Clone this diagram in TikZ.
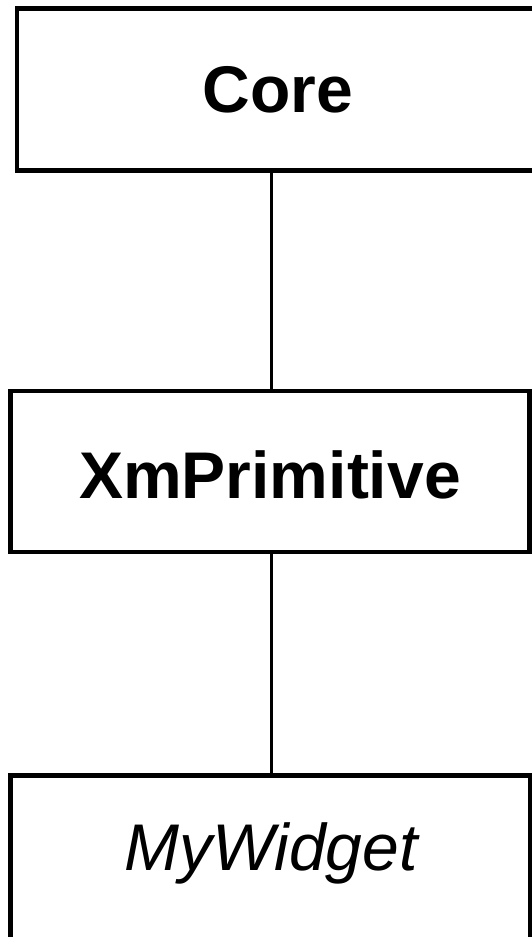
\documentclass[tikz,border=0pt]{standalone}
\usepackage{fontspec}
\setmainfont{Liberation Sans}
\begin{document}
\begin{tikzpicture}[x=1pt,y=-1pt,
  cls/.style={draw=black,line width=4.5pt,rectangle,inner sep=0pt},
  conn/.style={draw=black,line width=3pt}]
\useasboundingbox (0,0) rectangle (532,937);
\begin{scope}
\clip (0,0) rectangle (532,937);
\node[cls,minimum width=530pt,minimum height=162pt] (core) at (282,89.5) {};
\node[cls,minimum width=519pt,minimum height=161pt] (xm) at (270,471.5) {};
\node[cls,minimum width=519.5pt,minimum height=163.5pt] (my) at (270.25,857.25) {};
\end{scope}
\node[font=\fontsize{66}{70}\selectfont\bfseries] (coretxt) at (278,90) {Core};
\node[font=\fontsize{66}{70}\selectfont\bfseries] (xmtxt) at (270,475) {XmPrimitive};
\node[font=\fontsize{66}{70}\selectfont\itshape] (mytxt) at (271,853) {MyWidget};
\draw[conn] (core.south -| 271,0) -- (xm.north -| 271,0);
\draw[conn] (xm.south -| 271,0) -- (my.north -| 271,0);
\end{tikzpicture}
\end{document}
